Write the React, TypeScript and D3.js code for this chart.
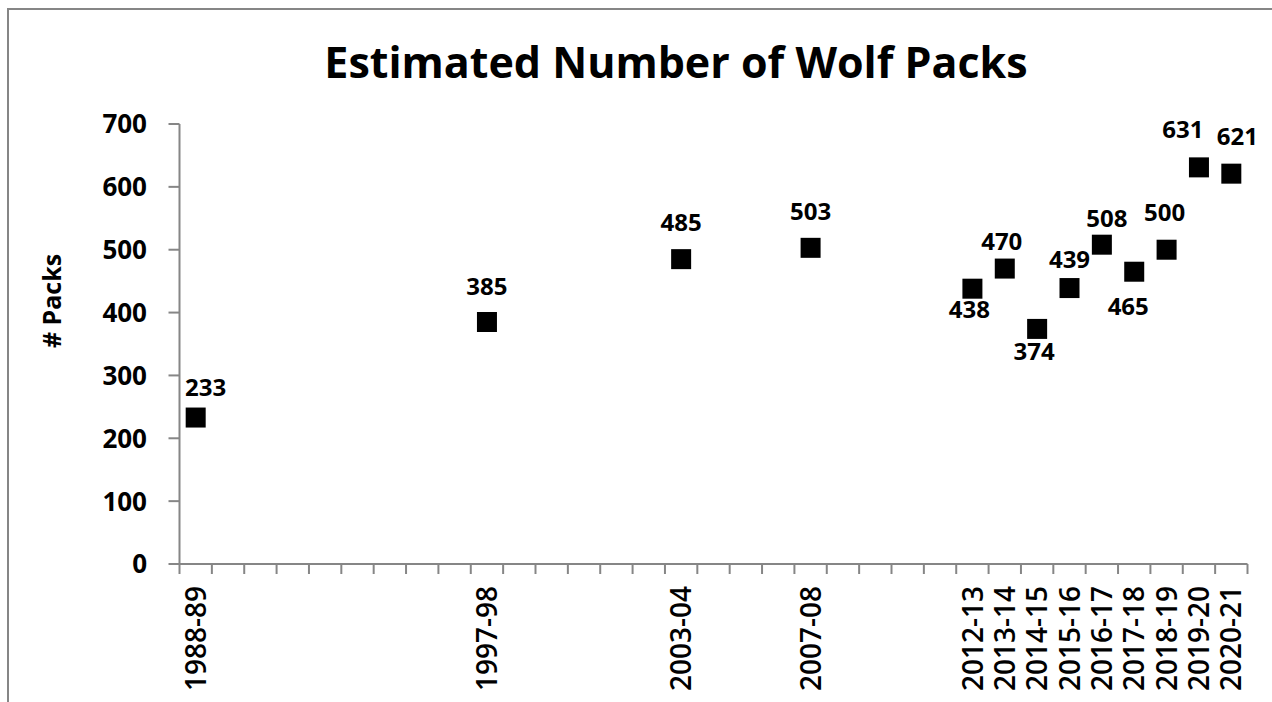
import React from 'react';
import * as d3 from 'd3';

// seasons with a survey value, and the estimated pack counts
const seasons = ['1988-89', '1997-98', '2003-04', '2007-08', '2012-13', '2013-14', '2014-15', '2015-16', '2016-17', '2017-18', '2018-19', '2019-20', '2020-21'];
const packs = [233, 385, 485, 503, 438, 470, 374, 439, 508, 465, 500, 631, 621];
const yTicks = [0, 100, 200, 300, 400, 500, 600, 700];

// label nudges (layout only): [dx, dy] from the marker centre to the label centre
const labelNudge = [
  [10, -30], [0, -36], [0, -37], [0, -36], [-3, 21], [-3, -27], [-3, 22],
  [0, -29], [5, -26], [-6, 35], [-2, -37], [-16, -38], [6, -37],
];

const W = 1272;
const H = 702;
const FONT = '"Open Sans", "DejaVu Sans", sans-serif';
const AXIS = '#868686';

const App = () => {
  // every season from 1988-89 to 2020-21 is a slot on the category axis
  const allSeasons = d3.range(1988, 2021).map((y) => `${y}-${String((y + 1) % 100).padStart(2, '0')}`);

  const left = 179.5;
  const right = 1247.5;
  const top = 124;
  const bottom = 564;

  const x = d3.scaleBand().domain(allSeasons).range([left, right]).paddingInner(0).paddingOuter(0);
  const y = d3.scaleLinear().domain([0, 700]).range([bottom, top]);
  const bw = x.bandwidth();
  const sq = 20;

  const tickEdges = d3.range(allSeasons.length + 1).map((i) => left + i * bw);

  return (
    <svg width={W} height={H} style={{ position: 'absolute', left: 0, top: 0, background: '#fff' }}>
      <rect x={8} y={9} width={W + 40} height={H + 40} fill="#fff" stroke={AXIS} strokeWidth={2} />

      <text x={676} y={78} textAnchor="middle" fontFamily={FONT} fontWeight={700} fontSize={43} fill="#000">
        Estimated Number of Wolf Packs
      </text>

      <text
        transform={`translate(52, 301) rotate(-90)`}
        dy="0.36em"
        textAnchor="middle"
        fontFamily={FONT}
        fontWeight={700}
        fontSize={25}
        fill="#000"
      >
        # Packs
      </text>

      {/* y axis */}
      <line x1={left} x2={left} y1={top} y2={bottom} stroke={AXIS} strokeWidth={2} />
      {yTicks.map((t) => (
        <g key={t}>
          <line x1={left - 11} x2={left} y1={y(t)} y2={y(t)} stroke={AXIS} strokeWidth={2} />
          <text x={147} y={y(t)} dy="0.36em" textAnchor="end" fontFamily={FONT} fontWeight={700} fontSize={26} fill="#000">
            {t}
          </text>
        </g>
      ))}

      {/* x axis */}
      <line x1={left} x2={right} y1={bottom} y2={bottom} stroke={AXIS} strokeWidth={2} />
      {tickEdges.map((tx, i) => (
        <line key={i} x1={tx} x2={tx} y1={bottom} y2={bottom + 10} stroke={AXIS} strokeWidth={2} />
      ))}
      {seasons.map((s) => (
        <text
          key={s}
          transform={`translate(${(x(s) as number) + bw / 2}, 586) rotate(-90)`}
          dy="0.36em"
          textAnchor="end"
          fontFamily={FONT}
          fontWeight={600}
          fontSize={28}
          fill="#000"
        >
          {s}
        </text>
      ))}

      {/* markers and labels */}
      {seasons.map((s, i) => {
        const cx = (x(s) as number) + bw / 2;
        const cy = y(packs[i]);
        const [dx, dy] = labelNudge[i];
        return (
          <g key={s}>
            <rect x={cx - sq / 2} y={cy - sq / 2} width={sq} height={sq} fill="#000" />
            <text
              x={cx + dx}
              y={cy + dy}
              dy="0.36em"
              textAnchor="middle"
              fontFamily={FONT}
              fontWeight={700}
              fontSize={24}
              fill="#000"
            >
              {packs[i]}
            </text>
          </g>
        );
      })}
    </svg>
  );
};

export default App;
